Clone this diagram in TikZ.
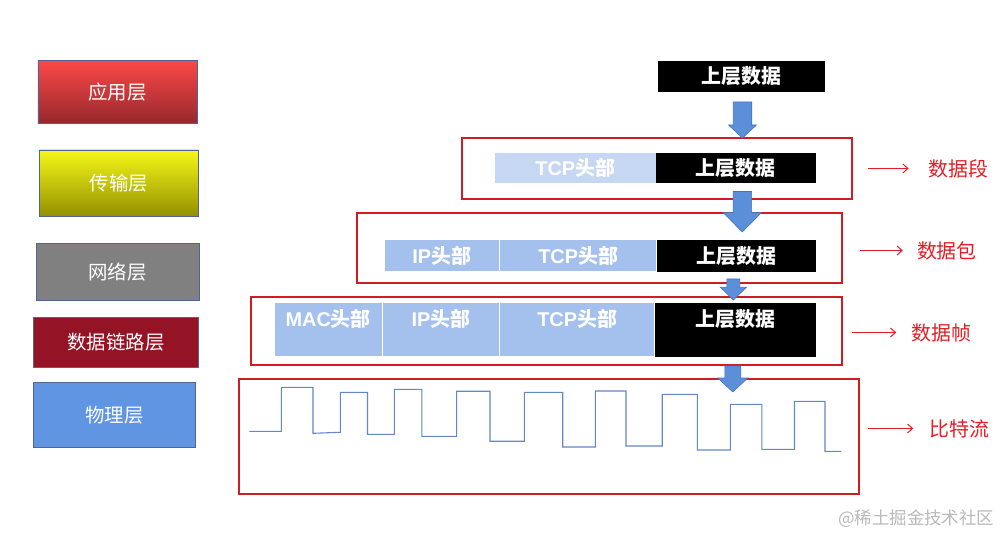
\documentclass[tikz,border=0pt]{standalone}
\usepackage{fontspec}
\setmainfont{Noto Sans CJK SC}
\newfontfamily\lat{Liberation Sans}
\usetikzlibrary{arrows.meta,calc}
\definecolor{framered}{RGB}{210,28,36}
\definecolor{lblred}{RGB}{228,30,36}
\definecolor{hdrblue}{RGB}{164,192,237}
\definecolor{hdrlight}{RGB}{198,215,244}
\definecolor{arrblue}{RGB}{91,143,218}
\definecolor{arredge}{RGB}{70,115,190}
\definecolor{wavec}{RGB}{100,135,198}
\definecolor{layeredge}{RGB}{80,100,150}
\newcommand\blockarrow[6]{%
  \filldraw[blockarr] (#1-#5/2,#2) -- (#1+#5/2,#2) -- (#1+#5/2,#3) -- (#1+#6/2,#3)
    -- (#1,#4) -- (#1-#6/2,#3) -- (#1-#5/2,#3) -- cycle;}
\begin{document}
\begin{tikzpicture}[x=1bp,y=-1bp,
  layer/.style={draw=layeredge, line width=0.8bp, text=white, inner sep=0pt, outer sep=0pt,
    font=\fontsize{19.5}{22}\selectfont},
  datab/.style={fill=black, text=white, inner sep=0pt, outer sep=0pt,
    font=\bfseries\fontsize{20}{24}\selectfont},
  hdr/.style={fill=hdrblue, draw=white, line width=0.9bp, text=white, inner sep=0pt, outer sep=0pt,
    font=\bfseries\fontsize{20}{24}\selectfont},
  celltxt/.style={text=white, inner sep=0pt, font=\bfseries\fontsize{20}{24}\selectfont},
  framearea/.style={inner sep=0pt, outer sep=0pt},
  frameline/.style={draw=framered, line width=1.6bp},
  blockarr/.style={fill=arrblue, draw=arredge, line width=0.6bp},
  redlbl/.style={text=lblred, inner sep=0pt, anchor=west, font=\fontsize{20}{24}\selectfont},
  redarr/.style={draw=lblred, line width=1bp, -{Straight Barb[length=5bp,width=9bp]}},
  wave/.style={draw=wavec, line width=1.1bp},
  wm/.style={text={rgb,255:red,185;green,185;blue,185}, inner sep=0pt, anchor=west,
    font=\fontsize{17.5}{20}\selectfont}
]
\useasboundingbox (0,0) rectangle (1003,535);
\fill[white] (0,0) rectangle (1003,535);

% frame areas (named) and their red outlines
\node[framearea, minimum width=390bp, minimum height=61bp] (f1) at (657,168.5) {};
\node[framearea, minimum width=485bp, minimum height=70bp] (f2) at (599.5,248) {};
\node[framearea, minimum width=591bp, minimum height=68bp] (f3) at (546.5,331) {};
\node[framearea, minimum width=620bp, minimum height=115bp] (f4) at (549,436.5) {};
\draw[frameline] (f1.north west) rectangle (f1.south east);
\draw[frameline] (f2.north west) rectangle (f2.south east);
\draw[frameline] (f3.north west) rectangle (f3.south east);
\draw[frameline] (f4.north west) rectangle (f4.south east);

% left layer boxes
\node[layer, minimum width=159bp, minimum height=63bp,
  top color={rgb,255:red,252;green,72;blue,72}, middle color={rgb,255:red,235;green,60;blue,62},
  bottom color={rgb,255:red,150;green,40;blue,45}] (app) at (117.5,92) {应用层};
\node[layer, minimum width=159bp, minimum height=66bp,
  top color={rgb,255:red,245;green,248;blue,25}, middle color={rgb,255:red,230;green,230;blue,10},
  bottom color={rgb,255:red,148;green,144;blue,0}] (trans) at (119,183) {传输层};
\node[layer, fill={rgb,255:red,128;green,128;blue,128}, minimum width=163bp, minimum height=57bp]
  (net) at (117.5,272) {网络层};
\node[layer, fill={rgb,255:red,148;green,20;blue,38}, minimum width=165bp, minimum height=50bp]
  (link) at (116,342.5) {数据链路层};
\node[layer, fill={rgb,255:red,95;green,149;blue,226}, minimum width=162bp, minimum height=65bp]
  (phys) at (114.5,415) {物理层};

% top data
\node[datab, minimum width=166.7bp, minimum height=30.7bp] (d0) at (741.7,76.3) {上层数据};

% segment
\node[hdr, fill=hdrlight, draw=none, minimum width=160.5bp, minimum height=29.4bp] (tcp1) at (575.25,168) {{\lat TCP}头部};
\node[datab, minimum width=160.5bp, minimum height=29.4bp] (d1) at (735.75,168) {上层数据};

% packet
\node[hdr, minimum width=115.5bp, minimum height=31.7bp] (ip2) at (441.75,255.8) {{\lat IP}头部};
\node[hdr, minimum width=157.2bp, minimum height=31.7bp] (tcp2) at (578.1,255.8) {{\lat TCP}头部};
\node[datab, minimum width=159.3bp, minimum height=31.7bp] (d2) at (736.35,255.8) {上层数据};

% frame
\node[hdr, minimum width=108.3bp, minimum height=54bp] (mac3) at (328.15,329.7) {};
\node[hdr, minimum width=117.2bp, minimum height=54bp] (ip3) at (440.9,329.7) {};
\node[hdr, minimum width=155.3bp, minimum height=54bp] (tcp3) at (577.15,329.7) {};
\node[datab, minimum width=161.2bp, minimum height=54bp] (d3) at (735.4,329.7) {};
\node[celltxt] (mac3t) at ([yshift=11bp]mac3.center) {{\lat MAC}头部};
\node[celltxt] (ip3t) at ([yshift=11bp]ip3.center) {{\lat IP}头部};
\node[celltxt] (tcp3t) at ([yshift=11bp]tcp3.center) {{\lat TCP}头部};
\node[celltxt] (d3t) at ([yshift=11bp]d3.center) {上层数据};

% block arrows
\blockarrow{742.5}{102}{125}{138}{18.5}{28}
\blockarrow{742.3}{191.5}{212.7}{232}{18.5}{38}
\blockarrow{733.4}{279}{287.3}{300}{13}{26}
\blockarrow{732.8}{366}{378}{392}{16}{30}

% waveform
\draw[wave] (249.3,431.3) -- (281.3,431.3) -- (281.3,387.3) -- (313,387.3) -- (313,433.3)
  -- (340.3,432.3) -- (340.3,392.3) -- (367.5,392.3) -- (367.5,434.3) -- (394.4,434.3)
  -- (394.4,389.3) -- (421.8,389.3) -- (421.8,436.3) -- (456.6,436.3) -- (456.6,391.2)
  -- (490,391.2) -- (490,441.2) -- (524.3,441.2) -- (524.3,392.3) -- (562.7,392.3)
  -- (562.7,447) -- (595.3,447) -- (595.3,391) -- (626,391) -- (626,446) -- (662.2,446)
  -- (662.2,394.3) -- (697.3,394.3) -- (697.3,450) -- (730.4,450) -- (730.4,404.3)
  -- (761.8,404.3) -- (761.8,449.3) -- (794.5,449.3) -- (794.5,401.3) -- (825,401.3)
  -- (825,451.3) -- (841.4,451.3);

% right labels
\node[redlbl] (l1) at (928.6,168.5) {数据段};
\node[redlbl] (l2) at (916.8,250.5) {数据包};
\node[redlbl] (l3) at (911.7,332.5) {数据帧};
\node[redlbl] (l4) at (929.3,428.5) {比特流};
\draw[redarr] ($(f1.east |- l1.west)+(16,0)$) -- ($(l1.west)+(-20,0)$);
\draw[redarr] ($(f2.east |- l2.west)+(18,0)$) -- ($(l2.west)+(-14,0)$);
\draw[redarr] ($(f3.east |- l3.west)+(10,0)$) -- ($(l3.west)+(-15.5,0)$);
\draw[redarr] ($(f4.east |- l4.west)+(9,0)$) -- ($(l4.west)+(-16,0)$);

% watermark
\node[wm] (wm) at (838,519) {@稀土掘金技术社区};
\end{tikzpicture}
\end{document}
